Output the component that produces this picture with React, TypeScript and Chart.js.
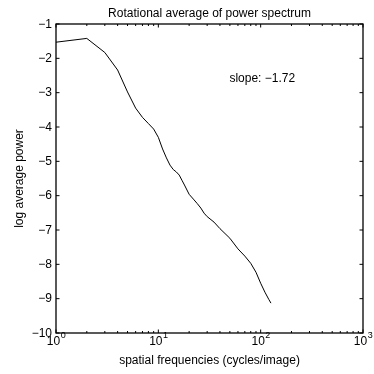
import React, { useEffect, useRef } from "react";
import { Chart, registerables } from "chart.js";

Chart.register(...registerables);

const freqs = [1, 2, 3, 4, 5, 6, 7, 8, 9, 10, 11, 12, 13, 14, 15, 16, 17, 18, 20, 22, 24, 26, 28, 30, 35, 40, 50, 60, 70, 80, 90, 100, 110, 120, 126];
const logPower = [-1.53, -1.42, -1.83, -2.34, -2.98, -3.45, -3.72, -3.9, -4.06, -4.3, -4.64, -4.9, -5.11, -5.24, -5.31, -5.4, -5.55, -5.69, -5.96, -6.1, -6.23, -6.36, -6.51, -6.61, -6.77, -6.96, -7.24, -7.55, -7.76, -7.97, -8.23, -8.55, -8.81, -9.02, -9.13];
const xDecades = [1, 10, 100, 1000];
const xExponents = ["0", "1", "2", "3"];
const yTicks = [-1, -2, -3, -4, -5, -6, -7, -8, -9, -10];
const titleText = "Rotational average of power spectrum";
const xLabel = "spatial frequencies (cycles/image)";
const yLabel = "log average power";
const slopeText = "slope: \u22121.72";
const slopePos = { x: 49.5, y: -2.6 };

const FONT = "Liberation Sans, Arial, Helvetica, sans-serif";

const decorPlugin = {
  id: "matlabDecor",
  afterDraw(chart: any) {
    const ctx = chart.ctx as CanvasRenderingContext2D;
    const { left, right, top, bottom } = chart.chartArea;
    const xs = chart.scales.x;
    const ys = chart.scales.y;
    ctx.save();
    ctx.strokeStyle = "#000";
    ctx.fillStyle = "#000";
    ctx.lineWidth = 1.3;
    ctx.strokeRect(left, top, right - left, bottom - top);

    ctx.lineWidth = 1;
    for (let d = 0; d < xDecades.length; d++) {
      const base = xDecades[d];
      const px = xs.getPixelForValue(base);
      ctx.beginPath();
      ctx.moveTo(px, bottom);
      ctx.lineTo(px, bottom - 3.5);
      ctx.moveTo(px, top);
      ctx.lineTo(px, top + 3.5);
      ctx.stroke();
      if (d < xDecades.length - 1) {
        for (let m = 2; m <= 9; m++) {
          const mx = xs.getPixelForValue(base * m);
          ctx.beginPath();
          ctx.moveTo(mx, bottom);
          ctx.lineTo(mx, bottom - 2);
          ctx.moveTo(mx, top);
          ctx.lineTo(mx, top + 2);
          ctx.stroke();
        }
      }
    }
    yTicks.forEach((v) => {
      const py = ys.getPixelForValue(v);
      ctx.beginPath();
      ctx.moveTo(left, py);
      ctx.lineTo(left + 3.5, py);
      ctx.moveTo(right, py);
      ctx.lineTo(right - 3.5, py);
      ctx.stroke();
    });

    ctx.font = `12px ${FONT}`;
    ctx.textAlign = "right";
    ctx.textBaseline = "middle";
    yTicks.forEach((v) => {
      const py = ys.getPixelForValue(v);
      ctx.fillText(String(v).replace("-", "\u2212"), left - 4, py + 0.5);
    });

    ctx.textBaseline = "alphabetic";
    ctx.textAlign = "left";
    xDecades.forEach((v, i) => {
      const px = xs.getPixelForValue(v);
      ctx.font = `12px ${FONT}`;
      const wBase = ctx.measureText("10").width;
      ctx.font = `9px ${FONT}`;
      const wSup = ctx.measureText(xExponents[i]).width;
      const start = px - (wBase + wSup) / 2;
      ctx.font = `12px ${FONT}`;
      ctx.fillText("10", start, bottom + 11.5);
      ctx.font = `9px ${FONT}`;
      ctx.fillText(xExponents[i], start + wBase + 0.5, bottom + 5);
    });

    ctx.font = `12px ${FONT}`;
    ctx.textAlign = "center";
    ctx.textBaseline = "middle";
    ctx.fillText(xLabel, (left + right) / 2, 361);
    ctx.fillText(titleText, (left + right) / 2, 13.5);
    ctx.save();
    ctx.translate(20, (top + bottom) / 2);
    ctx.rotate(-Math.PI / 2);
    ctx.fillText(yLabel, 0, 0);
    ctx.restore();

    ctx.textAlign = "left";
    ctx.fillText(slopeText, xs.getPixelForValue(slopePos.x), ys.getPixelForValue(slopePos.y));
    ctx.restore();
  },
};

export default function App() {
  const canvasRef = useRef<HTMLCanvasElement | null>(null);

  useEffect(() => {
    const canvas = canvasRef.current;
    if (!canvas) return;
    const points = freqs.map((f, i) => ({ x: f, y: logPower[i] }));
    const chart = new Chart(canvas, {
      type: "line",
      data: {
        datasets: [
          {
            data: points,
            borderColor: "#000",
            borderWidth: 1,
            pointRadius: 0,
            tension: 0,
            fill: false,
          },
        ],
      },
      options: {
        responsive: false,
        animation: false,
        events: [],
        layout: { padding: { left: 0, top: 24, right: 11, bottom: 0 } },
        plugins: { legend: { display: false }, title: { display: false }, tooltip: { enabled: false } },
        scales: {
          x: {
            type: "logarithmic",
            min: 1,
            max: 1000,
            grid: { display: false, drawTicks: false },
            border: { display: false },
            ticks: { display: false },
            afterFit: (s: any) => {
              s.height = 41;
            },
          },
          y: {
            type: "linear",
            min: -10,
            max: -1,
            grid: { display: false, drawTicks: false },
            border: { display: false },
            ticks: { display: false },
            afterFit: (s: any) => {
              s.width = 56;
            },
          },
        },
      },
      plugins: [decorPlugin],
    });
    return () => chart.destroy();
  }, []);

  return (
    <div style={{ position: "absolute", left: 0, top: 0, width: 374, height: 374, background: "#fff" }}>
      <canvas ref={canvasRef} width={374} height={374} style={{ display: "block", width: 374, height: 374 }} />
    </div>
  );
}
